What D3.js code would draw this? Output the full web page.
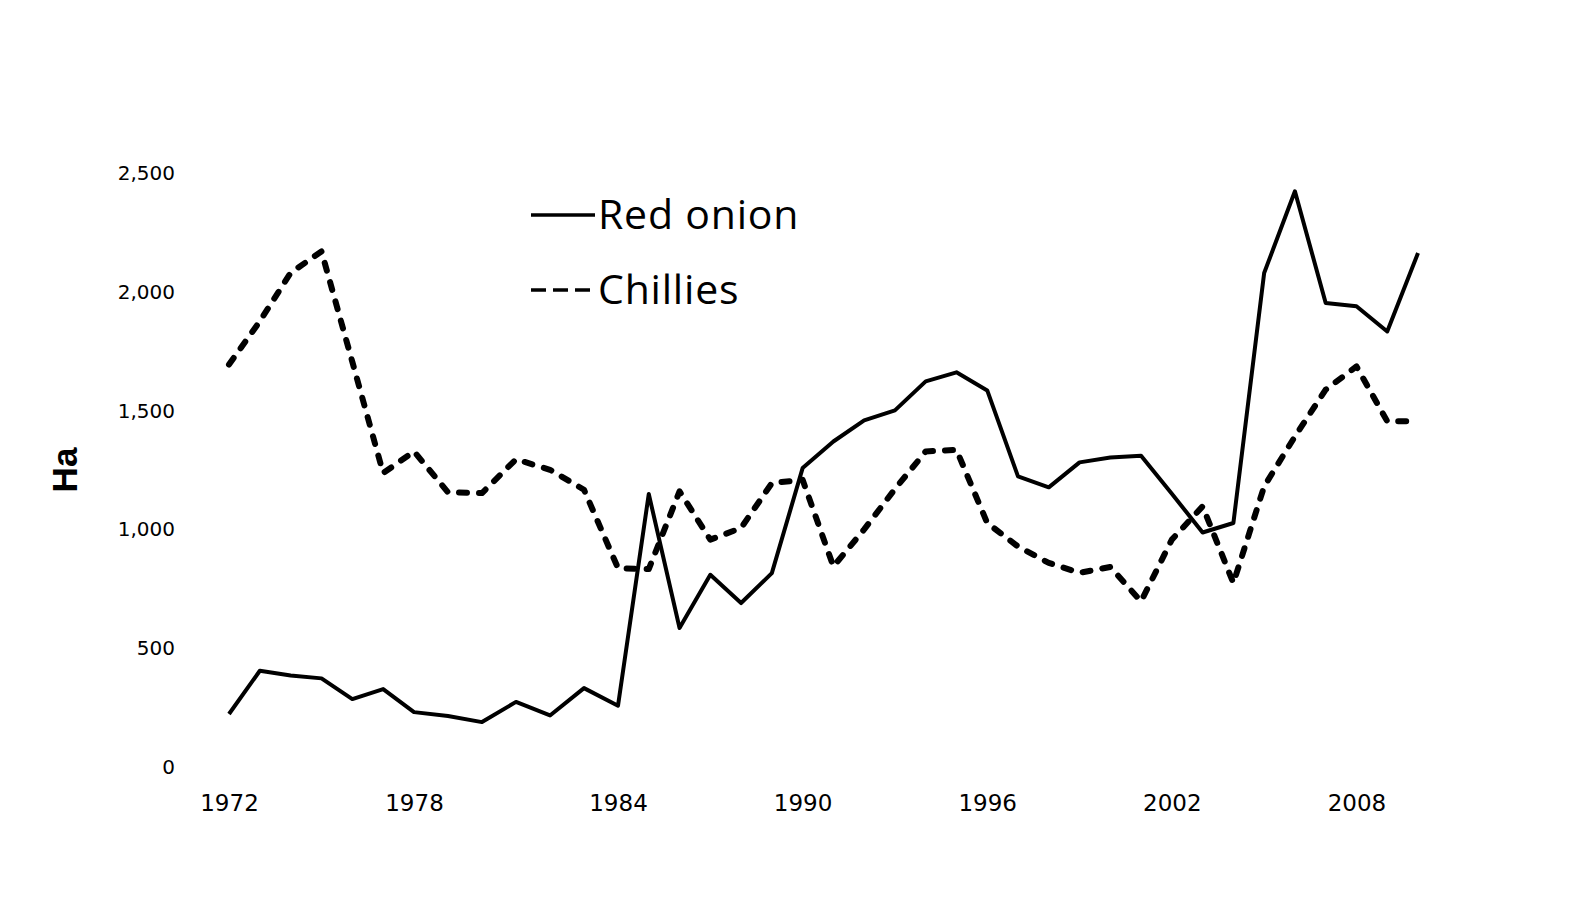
<!DOCTYPE html>
<html>
<head>
    <meta charset="utf-8">
    <title>Red onion and chillies area</title>
    <style>
        body {
            margin: 0;
            background: #fff;
        }

        .tick text {
            fill: #000;
        }

        .line {
            fill: none;
            stroke: #000;
        }
    </style>
</head>
<body>
<script src="https://cdnjs.cloudflare.com/ajax/libs/d3/7.8.5/d3.min.js"></script>
<script>
    // Area in hectares
    const years = d3.range(1972, 2011);
    const redOnion = [223, 405, 385, 373, 286, 328, 231, 215, 189, 274,
        217, 332, 258, 1149, 585, 809, 690, 816, 1258, 1370,
        1459, 1501, 1623, 1661, 1585, 1223, 1177, 1282, 1303, 1310,
        1150, 987, 1027, 2079, 2423, 1953, 1939, 1833, 2163];
    const chillies = [1694, 1876, 2080, 2170, 1705, 1237, 1328, 1156, 1153, 1295,
        1251, 1167, 837, 833, 1160, 957, 1006, 1195, 1209, 844,
        1000, 1170, 1328, 1335, 1027, 928, 859, 817, 842, 697,
        957, 1097, 774, 1181, 1391, 1588, 1686, 1455, 1455];
    const xTicks = [1972, 1978, 1984, 1990, 1996, 2002, 2008];
    const yTicks = [0, 500, 1000, 1500, 2000, 2500];
    const seriesNames = ["Red onion", "Chillies"];

    const width = 1579;
    const height = 898;

    const svg = d3.select("body")
        .append("svg")
        .attr("width", width)
        .attr("height", height);

    // the scanned original is stretched a little on the left, so the
    // x scale is piecewise linear to follow it
    const x = d3.scaleLinear()
        .domain([1972, 1978, 1984, 2010])
        .range([229, 414, 618, 1418]);
    const y = d3.scaleLinear().domain([0, 2500]).range([767, 173]);

    // Y axis: labels only, no line or ticks
    const yAxis = svg.append("g")
        .attr("transform", "translate(229,0)")
        .call(d3.axisLeft(y).tickValues(yTicks).tickSize(0).tickPadding(54)
            .tickFormat(d3.format(",")));
    yAxis.select(".domain").remove();
    yAxis.selectAll("text")
        .style("font-family", "DejaVu Sans")
        .style("font-size", "20px");

    // X axis: labels only
    const xAxis = svg.append("g")
        .attr("transform", "translate(0,767)")
        .call(d3.axisBottom(x).tickValues(xTicks).tickSize(0).tickPadding(28)
            .tickFormat(d3.format("d")));
    xAxis.select(".domain").remove();
    xAxis.selectAll("text")
        .style("font-family", "DejaVu Sans")
        .style("font-size", "23px");

    // Axis title
    svg.append("text")
        .attr("transform", "translate(77,470) rotate(-90)")
        .attr("text-anchor", "middle")
        .style("font-family", "Liberation Sans")
        .style("font-weight", "bold")
        .style("font-size", "35px")
        .text("Ha");

    const line = d3.line()
        .x((d, i) => x(years[i]))
        .y(d => y(d));

    svg.append("path")
        .datum(chillies)
        .attr("class", "line")
        .attr("d", line)
        .attr("stroke-width", 6)
        .attr("stroke-linecap", "round")
        .attr("stroke-linejoin", "round")
        .attr("stroke-dasharray", "8,12");

    svg.append("path")
        .datum(redOnion)
        .attr("class", "line")
        .attr("d", line)
        .attr("stroke-width", 4)
        .attr("stroke-linejoin", "round");

    // Legend
    const legend = svg.append("g").attr("transform", "translate(531,0)");
    const legendRows = [{y: 215, dash: null}, {y: 290, dash: "15,7"}];

    legendRows.forEach((row, i) => {
        legend.append("line")
            .attr("x1", 0)
            .attr("x2", 64)
            .attr("y1", row.y)
            .attr("y2", row.y)
            .attr("stroke", "#000")
            .attr("stroke-width", 3.4)
            .attr("stroke-dasharray", row.dash);

        legend.append("text")
            .attr("x", 67)
            .attr("y", row.y + 14)
            .style("font-family", "Open Sans")
            .style("font-size", "41px")
            .style("letter-spacing", "0.8px")
            .style("fill", "#000")
            .text(seriesNames[i]);
    });
</script>
</body>
</html>
